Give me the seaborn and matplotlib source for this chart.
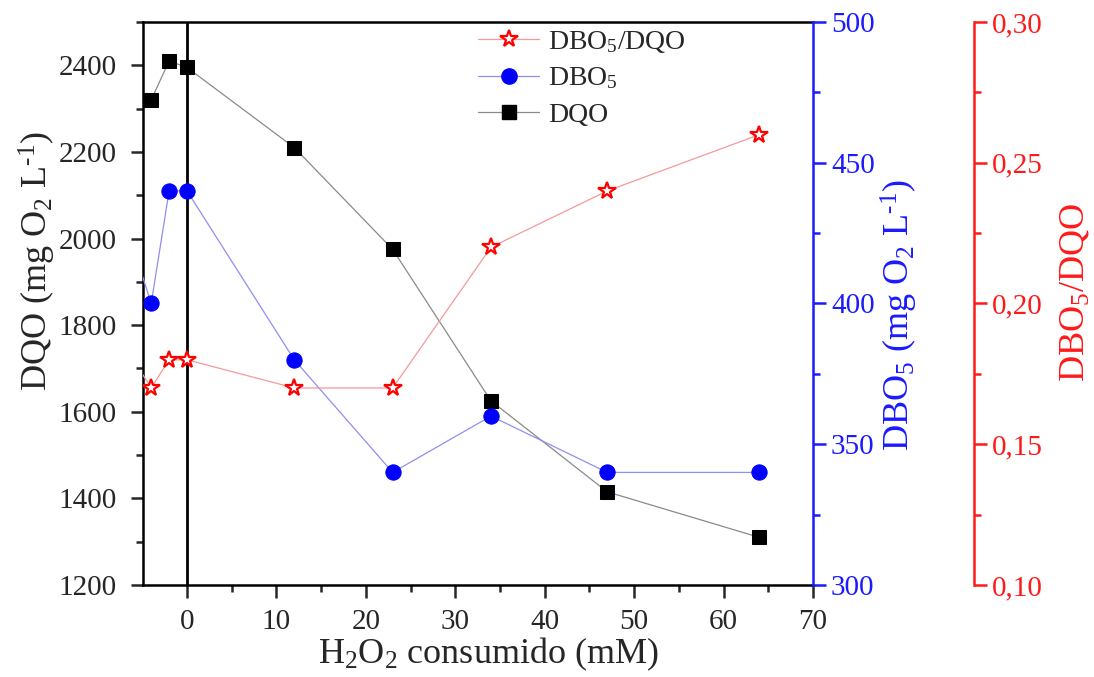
import matplotlib
matplotlib.use("Agg")
import matplotlib.pyplot as plt
from matplotlib.lines import Line2D
from matplotlib.ticker import MultipleLocator, FuncFormatter
import seaborn as sns

# H2O2 consumed (mM) and the measured parameters
h2o2_dqo = [-4, -2, 0, 12, 23, 34, 47, 64]
dqo = [2320, 2410, 2395, 2210, 1975, 1625, 1415, 1310]

h2o2_dbo = [-6, -4, -2, 0, 12, 23, 34, 47, 64]
dbo5 = [420, 400, 440, 440, 380, 340, 360, 340, 340]
ratio = [0.18, 0.17, 0.18, 0.18, 0.17, 0.17, 0.22, 0.24, 0.26]

x_ticks = [0, 10, 20, 30, 40, 50, 60, 70]
dqo_ticks = [1200, 1400, 1600, 1800, 2000, 2200, 2400]
dbo_ticks = [300, 350, 400, 450, 500]
ratio_ticks = [0.10, 0.15, 0.20, 0.25, 0.30]

sns.set_style("ticks")
plt.rcParams["font.family"] = ["Liberation Serif", "DejaVu Serif"]
plt.rcParams["mathtext.fontset"] = "custom"
plt.rcParams["mathtext.rm"] = "Liberation Serif"
plt.rcParams["mathtext.it"] = "Liberation Serif:italic"

TICK_FS = 21
LABEL_FS = 26
LEGEND_FS = 20
BLUE = "#1a1aff"
RED = "#ff1a1a"

fig = plt.figure(figsize=(10.94, 6.77), dpi=100)
ax = fig.add_axes([0.1307, 0.1359, 0.6124, 0.8316])
ax2 = ax.twinx()
ax3 = ax.twinx()
ax3.spines["right"].set_position(("axes", 1.2406))

# DQO (left axis)
ax.axvline(0, color="black", lw=2, zorder=1)
sns.lineplot(x=h2o2_dqo, y=dqo, ax=ax, color="#8a8a8a", lw=0.9,
             marker="s", markersize=10, markerfacecolor="black",
             markeredgecolor="black", zorder=4)

# DBO5 (first right axis)
sns.lineplot(x=h2o2_dbo, y=dbo5, ax=ax2, color="#8f8ff2", lw=0.9,
             marker="o", markersize=11, markerfacecolor="#0000ff",
             markeredgecolor="#0000ff", zorder=3)

# DBO5/DQO ratio (offset right axis)
sns.lineplot(x=h2o2_dbo, y=ratio, ax=ax3, color="#f29a9a", lw=0.9,
             marker="*", markersize=13, markerfacecolor="white",
             markeredgecolor="#ff0000", markeredgewidth=1.6, zorder=3)

ax.set_xlim(-4.92, 70)
ax.set_ylim(1200, 2500)
ax2.set_ylim(300, 500)
ax3.set_ylim(0.10, 0.30)

ax.set_xticks(x_ticks)
ax.xaxis.set_minor_locator(MultipleLocator(5))
ax.set_yticks(dqo_ticks)
ax.yaxis.set_minor_locator(MultipleLocator(100))
ax2.set_yticks(dbo_ticks)
ax2.yaxis.set_minor_locator(MultipleLocator(25))
ax3.set_yticks(ratio_ticks)
ax3.yaxis.set_minor_locator(MultipleLocator(0.025))
ax3.yaxis.set_major_formatter(FuncFormatter(lambda v, p: f"{v:.2f}".replace(".", ",")))

for a in (ax, ax2, ax3):
    a.tick_params(which="major", direction="out", length=9, width=1.8,
                  labelsize=TICK_FS, pad=4)
    a.tick_params(which="minor", direction="out", length=5, width=1.8)
ax.tick_params(axis="y", which="major", pad=10)
ax.tick_params(axis="x", which="major", pad=8)

for s in ("left", "bottom", "top"):
    ax.spines[s].set_linewidth(1.8)
    ax.spines[s].set_color("black")
ax.spines["right"].set_visible(False)
for a in (ax2, ax3):
    for s in ("left", "bottom", "top"):
        a.spines[s].set_visible(False)

ax2.spines["right"].set_color(BLUE)
ax2.spines["right"].set_linewidth(1.8)
ax2.tick_params(axis="y", which="both", colors=BLUE, labelcolor=BLUE)
ax3.spines["right"].set_color(RED)
ax3.spines["right"].set_linewidth(1.8)
ax3.tick_params(axis="y", which="both", colors=RED, labelcolor=RED)

ax.set_xlabel(r"H$_2$O$_2$ consumido (mM)", fontsize=LABEL_FS)
ax.set_ylabel(r"DQO (mg O$_2$ L$^{\text{-1}}$)", fontsize=LABEL_FS)
ax2.set_ylabel(r"DBO$_5$ (mg O$_2$ L$^{\text{-1}}$)", fontsize=LABEL_FS, color=BLUE)
ax3.set_ylabel(r"DBO$_5$/DQO", fontsize=LABEL_FS, color=RED)
ax.xaxis.set_label_coords(0.516, -0.09)
ax.yaxis.set_label_coords(-0.127, 0.575)
ax2.yaxis.set_label_coords(1.099, 0.48)
ax3.yaxis.set_label_coords(1.367, 0.52)

handles = [
    Line2D([], [], color="#f29a9a", lw=0.9, marker="*", markersize=13,
           markerfacecolor="white", markeredgecolor="#ff0000", markeredgewidth=1.6),
    Line2D([], [], color="#8f8ff2", lw=0.9, marker="o", markersize=11,
           markerfacecolor="#0000ff", markeredgecolor="#0000ff"),
    Line2D([], [], color="#8a8a8a", lw=0.9, marker="s", markersize=10,
           markerfacecolor="black", markeredgecolor="black"),
]
labels = [r"DBO$_5$/DQO", r"DBO$_5$", "DQO"]
leg = ax3.legend(handles, labels, loc="upper left", bbox_to_anchor=(0.4716, 1.022),
                 frameon=False, fontsize=LEGEND_FS, handlelength=2.2,
                 labelspacing=0.38, handletextpad=0.3, numpoints=1,
                 borderpad=0.2)
leg.set_zorder(10)

fig.savefig("out.png", dpi=100)
